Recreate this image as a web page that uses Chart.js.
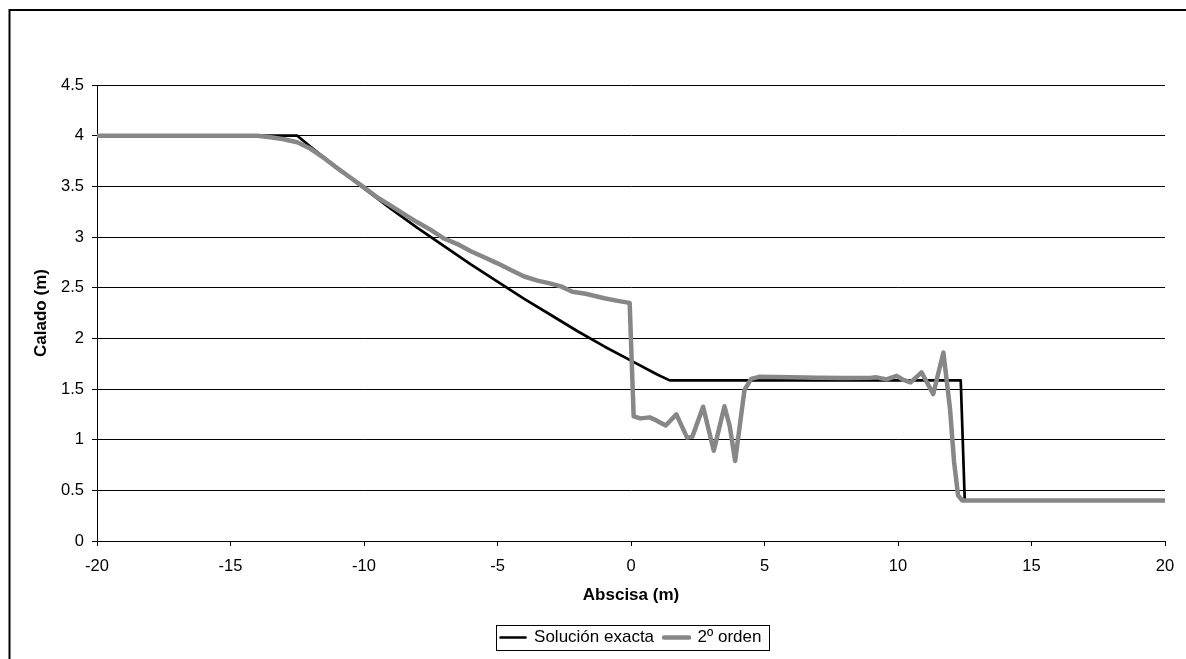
<!DOCTYPE html>
<html>
<head>
<meta charset="utf-8">
<script src="https://cdn.jsdelivr.net/npm/chart.js@4"></script>
<style>
  html, body { margin: 0; padding: 0; background: #fff; }
  canvas { display: block; }
</style>
</head>
<body>
<canvas id="c" width="1186" height="659"></canvas>
<script>
// ---- Data ----
const seriesNames = ["Solución exacta", "2º orden"];

const exactX = [-20, -12.5, -12, -11, -10, -9, -8, -7, -6, -5, -4, -3, -2, -1, 0, 1, 1.45, 12.35, 12.5, 20];
const exactY = [4, 4, 3.89, 3.68, 3.48, 3.28, 3.09, 2.91, 2.73, 2.56, 2.39, 2.23, 2.07, 1.92, 1.78, 1.64, 1.585, 1.585, 0.4, 0.4];

const orderX = [-20, -14, -13.5, -13, -12.5, -12, -11.5, -11, -10.5, -10, -9.5, -9, -8.5, -8, -7.5, -7, -6.5, -6, -5.5, -5, -4.5, -4, -3.5, -3, -2.6, -2.2, -1.7, -1.0, -0.5, -0.05,
                0.1, 0.35, 0.7, 0.95, 1.3, 1.7, 2.1, 2.3, 2.7, 3.1, 3.5, 3.7, 3.9, 4.25, 4.5, 4.8, 6, 7, 8, 9, 9.2, 9.57, 9.95, 10.2, 10.47, 10.88, 11.32, 11.7, 11.95, 12.1, 12.25, 12.4, 20];
const orderY = [4, 4, 3.985, 3.965, 3.935, 3.87, 3.78, 3.68, 3.585, 3.49, 3.39, 3.31, 3.225, 3.145, 3.07, 2.985, 2.93, 2.86, 2.80, 2.74, 2.675, 2.61, 2.57, 2.54, 2.51, 2.46, 2.44, 2.395, 2.37, 2.35,
                1.23, 1.21, 1.22, 1.19, 1.14, 1.25, 1.02, 1.03, 1.325, 0.89, 1.33, 1.13, 0.79, 1.49, 1.6, 1.62, 1.615, 1.61, 1.608, 1.61, 1.615, 1.595, 1.63, 1.59, 1.565, 1.665, 1.45, 1.86, 1.3, 0.78, 0.45, 0.4, 0.4];

const xTitle = "Abscisa (m)";
const yTitle = "Calado (m)";
const xMin = -20, xMax = 20, xStep = 5;
const yMin = 0, yMax = 4.5, yStep = 0.5;

// ---- Build ----
const toPts = (xs, ys) => xs.map((x, i) => ({ x: x, y: ys[i] }));
const plainNum = v => String(Math.round(v * 100) / 100);

Chart.defaults.font.family = '"Liberation Sans", Arial, sans-serif';
Chart.defaults.color = '#000';

const framePlugin = {
  id: 'frame',
  beforeDraw(chart) {
    const ctx = chart.ctx;
    ctx.save();
    ctx.fillStyle = '#fff';
    ctx.fillRect(0, 0, chart.width, chart.height);
    ctx.strokeStyle = '#000';
    ctx.lineWidth = 2;
    ctx.beginPath();
    ctx.moveTo(9.5, chart.height + 5);
    ctx.lineTo(9.5, 10);
    ctx.lineTo(chart.width + 5, 10);
    ctx.stroke();
    ctx.restore();
  },
  afterDraw(chart) {
    const hb = chart.legend && chart.legend.legendHitBoxes;
    if (!hb || !hb.length) return;
    let l = Infinity, r = -Infinity, t = Infinity, b = -Infinity;
    hb.forEach(h => {
      l = Math.min(l, h.left); r = Math.max(r, h.left + h.width);
      t = Math.min(t, h.top); b = Math.max(b, h.top + h.height);
    });
    const ctx = chart.ctx;
    ctx.save();
    ctx.strokeStyle = '#000';
    ctx.lineWidth = 1;
    ctx.strokeRect(Math.round(l - 5) + 0.5, Math.round(t - 4) + 0.5, Math.round(r - l + 12), Math.round(b - t + 8));
    ctx.restore();
  }
};

new Chart(document.getElementById('c'), {
  type: 'scatter',
  data: {
    datasets: [
      {
        label: seriesNames[0],
        data: toPts(exactX, exactY),
        showLine: true,
        borderColor: '#000',
        backgroundColor: '#000',
        borderWidth: 2.7,
        pointRadius: 0,
        tension: 0,
        borderJoinStyle: 'round',
        order: 1
      },
      {
        label: seriesNames[1],
        data: toPts(orderX, orderY),
        showLine: true,
        borderColor: '#878787',
        backgroundColor: '#878787',
        borderWidth: 4.5,
        pointRadius: 0,
        tension: 0,
        borderJoinStyle: 'round',
        order: 0
      }
    ]
  },
  options: {
    responsive: false,
    animation: false,
    events: [],
    layout: { padding: { left: 10, top: 85, right: 21, bottom: 3 } },
    plugins: {
      tooltip: { enabled: false },
      legend: {
        position: 'bottom',
        fullSize: false,
        labels: {
          boxWidth: 25,
          boxHeight: 0,
          padding: 10,
          color: '#000',
          font: { size: 17 },
          sort: (a, b) => a.datasetIndex - b.datasetIndex
        }
      }
    },
    scales: {
      x: {
        type: 'linear',
        min: xMin, max: xMax,
        afterFit(scale) { scale.height = 78; },
        ticks: { stepSize: xStep, padding: 11, color: '#000', font: { size: 16.5 }, callback: plainNum },
        grid: { display: true, drawOnChartArea: false, drawTicks: true, tickLength: 5, color: '#000' },
        border: { display: true, color: '#000', width: 1 },
        title: { display: true, text: xTitle, color: '#000', font: { size: 17, weight: 'bold' }, padding: { top: 0, bottom: 13.3 } }
      },
      y: {
        type: 'linear',
        min: yMin, max: yMax,
        afterFit(scale) { scale.width = 87; },
        ticks: { stepSize: yStep, padding: 8, color: '#000', font: { size: 16.5 }, callback: plainNum },
        grid: { display: true, drawOnChartArea: true, drawTicks: true, tickLength: 5, color: '#000' },
        border: { display: true, color: '#000', width: 1 },
        title: { display: true, text: yTitle, color: '#000', font: { size: 17, weight: 'bold' }, padding: { top: 20.8, bottom: 0 } }
      }
    }
  },
  plugins: [framePlugin]
});
</script>
</body>
</html>
